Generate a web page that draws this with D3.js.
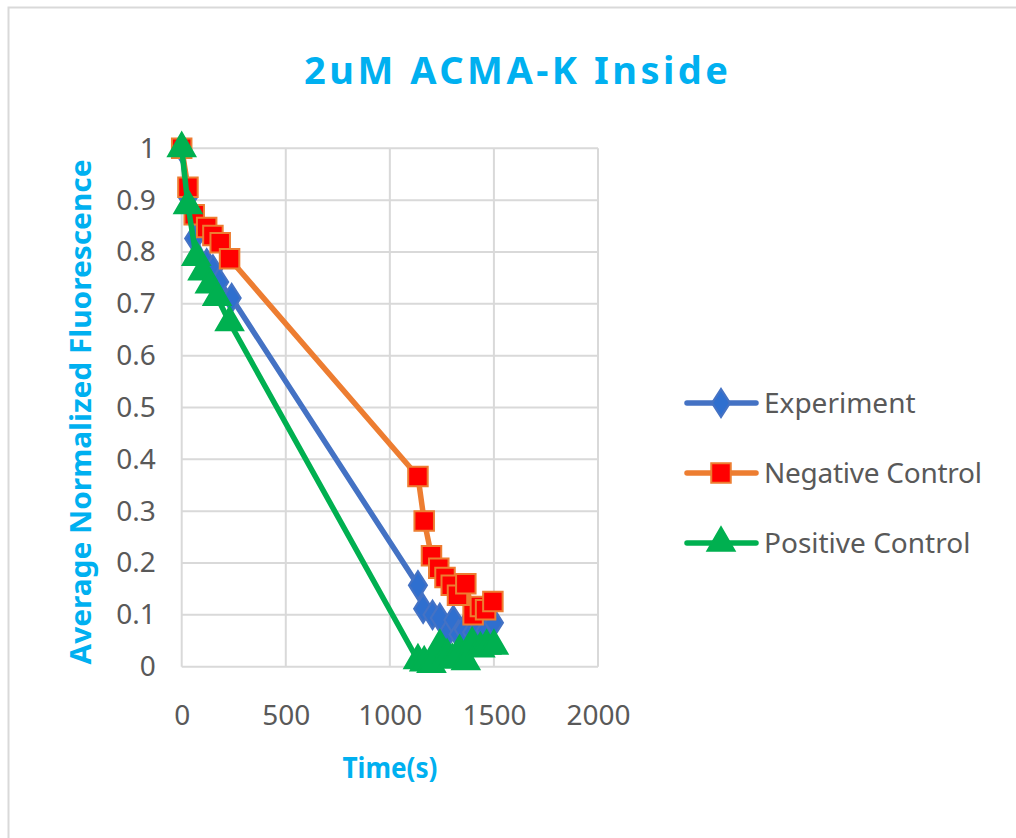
<!DOCTYPE html>
<html>
<head>
<meta charset="utf-8">
<script src="https://cdn.jsdelivr.net/npm/d3@7"></script>
<style>
  html, body { margin: 0; padding: 0; background: #fff; overflow: hidden; }
  svg { display: block; overflow: hidden; }
</style>
</head>
<body>
<div id="chart"></div>
<script>
// data
var expTime = [0, 30, 60, 120, 150, 180, 240, 1135, 1160, 1205, 1240, 1280, 1305, 1330, 1355, 1395, 1430, 1460, 1500];
var expVal  = [1.0, 0.905, 0.826, 0.778, 0.766, 0.742, 0.711, 0.157, 0.112, 0.1, 0.094, 0.066, 0.09, 0.062, 0.072, 0.066, 0.075, 0.07, 0.085];

var negTime = [0, 30, 60, 120, 150, 185, 230, 1135, 1165, 1200, 1235, 1265, 1295, 1325, 1365, 1400, 1435, 1460, 1495];
var negVal  = [1.0, 0.925, 0.872, 0.847, 0.832, 0.818, 0.787, 0.367, 0.281, 0.214, 0.19, 0.172, 0.157, 0.138, 0.16, 0.1, 0.116, 0.11, 0.126];

var posTime = [0, 30, 70, 100, 135, 170, 230, 1135, 1165, 1200, 1240, 1275, 1300, 1335, 1365, 1395, 1435, 1465, 1500];
var posVal  = [1.0, 0.89, 0.79, 0.762, 0.737, 0.713, 0.664, 0.012, 0.008, 0.005, 0.04, 0.022, 0.013, 0.03, 0.01, 0.045, 0.035, 0.04, 0.04];

var xTicks = [0, 500, 1000, 1500, 2000];
var yTicks = [0, 0.1, 0.2, 0.3, 0.4, 0.5, 0.6, 0.7, 0.8, 0.9, 1];

var series = [
  { name: "Experiment", t: expTime, v: expVal, line: "#4472c4", fill: "#2f6fcf", stroke: "#4472c4", shape: "diamond" },
  { name: "Negative Control", t: negTime, v: negVal, line: "#ed7d31", fill: "#ff0000", stroke: "#ed7d31", shape: "square" },
  { name: "Positive Control", t: posTime, v: posVal, line: "#00b050", fill: "#00b050", stroke: "#00b050", shape: "triangle" }
];

var W = 1016, H = 838;
var svg = d3.select("#chart").append("svg").attr("width", W).attr("height", H);

// outer chart border (runs off the right and bottom)
svg.append("path").attr("d", "M8.5," + H + "V7.5H" + W)
   .attr("fill", "none").attr("stroke", "#d9d9d9").attr("stroke-width", 2);

var x = d3.scaleLinear().domain([0, 2000]).range([181.7, 598]);
var y = d3.scaleLinear().domain([0, 1]).range([666.7, 148.3]);

var tickFont = "'Noto Sans', 'Open Sans', sans-serif";

// gridlines
var grid = svg.append("g").attr("stroke", "#d9d9d9").attr("stroke-width", 2);
grid.selectAll("line.h").data(yTicks).enter().append("line")
  .attr("x1", x(0)).attr("x2", x(2000))
  .attr("y1", function(d) { return y(d); }).attr("y2", function(d) { return y(d); });
grid.selectAll("line.v").data(xTicks).enter().append("line")
  .attr("y1", y(0)).attr("y2", y(1))
  .attr("x1", function(d) { return x(d); }).attr("x2", function(d) { return x(d); });

// axes (tick labels only)
var xAxis = svg.append("g").attr("transform", "translate(0," + y(0) + ")")
  .call(d3.axisBottom(x).tickValues(xTicks).tickSize(0).tickPadding(38).tickFormat(d3.format("d")));
var yAxis = svg.append("g").attr("transform", "translate(" + x(0) + ",0)")
  .call(d3.axisLeft(y).tickValues(yTicks).tickSize(0).tickPadding(26).tickFormat(function(d) { return d === 0 || d === 1 ? d3.format("d")(d) : d3.format(".1f")(d); }));
[xAxis, yAxis].forEach(function(a) {
  a.select(".domain").remove();
  a.selectAll("text").attr("fill", "#595959").attr("font-family", tickFont).attr("font-size", 28);
});

// series: line then markers
var sym = {
  diamond: d3.symbol().type(d3.symbolDiamond).size(230),
  square: d3.symbol().type(d3.symbolSquare).size(380),
  triangle: d3.symbol().type(d3.symbolTriangle).size(320)
};

var lineGen = d3.line().x(function(d) { return x(d[0]); }).y(function(d) { return y(d[1]); });

series.forEach(function(s) {
  var pts = s.t.map(function(t, i) { return [t, s.v[i]]; });
  var g = svg.append("g");
  g.append("path").datum(pts).attr("d", lineGen)
    .attr("fill", "none").attr("stroke", s.line).attr("stroke-width", 5.5)
    .attr("stroke-linejoin", "round").attr("stroke-linecap", "round");
  g.selectAll("path.m").data(pts).enter().append("path")
    .attr("class", "m")
    .attr("d", sym[s.shape])
    .attr("transform", function(d) { return "translate(" + x(d[0]) + "," + y(d[1]) + ")" + (s.shape === "diamond" ? " scale(1.1,1)" : ""); })
    .attr("fill", s.fill).attr("stroke", s.stroke).attr("stroke-width", 2);
});

// title
svg.append("text").attr("x", 516).attr("y", 84).attr("text-anchor", "middle")
  .attr("font-family", tickFont).attr("font-weight", 700).attr("font-size", 38)
  .attr("fill", "#00b0f0").attr("textLength", 424).attr("lengthAdjust", "spacing")
  .text("2uM ACMA-K Inside");

// axis titles
svg.append("text").attr("x", 390).attr("y", 778).attr("text-anchor", "middle")
  .attr("font-family", tickFont).attr("font-weight", 700).attr("font-size", 28)
  .attr("fill", "#00b0f0").attr("textLength", 95).attr("lengthAdjust", "spacingAndGlyphs")
  .text("Time(s)");
svg.append("text").attr("transform", "translate(91,412) rotate(-90)").attr("text-anchor", "middle")
  .attr("font-family", tickFont).attr("font-weight", 700).attr("font-size", 28)
  .attr("fill", "#00b0f0").attr("textLength", 505).attr("lengthAdjust", "spacingAndGlyphs")
  .text("Average Normalized Fluorescence");

// legend
var legY = [403, 473, 543];
var leg = svg.append("g");
series.forEach(function(s, i) {
  var ly = legY[i];
  leg.append("line").attr("x1", 687).attr("x2", 756).attr("y1", ly).attr("y2", ly)
    .attr("stroke", s.line).attr("stroke-width", 5.5).attr("stroke-linecap", "round");
  leg.append("path").attr("d", sym[s.shape])
    .attr("transform", "translate(721," + ly + ")" + (s.shape === "diamond" ? " scale(1.1,1)" : ""))
    .attr("fill", s.fill).attr("stroke", s.stroke).attr("stroke-width", 2);
  leg.append("text").attr("x", 764).attr("y", ly + 10)
    .attr("font-family", tickFont).attr("font-size", 28).attr("fill", "#595959")
    .attr("textLength", s.name === "Negative Control" ? 218 : null)
    .text(s.name);
});
</script>
</body>
</html>
